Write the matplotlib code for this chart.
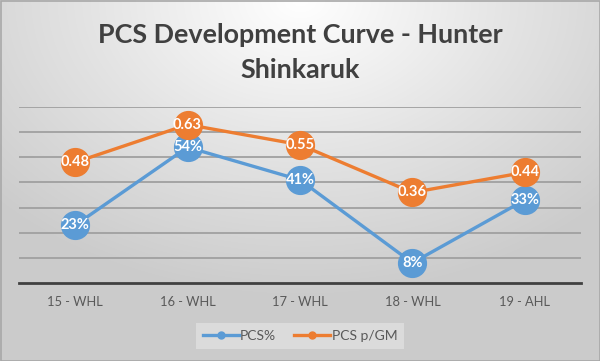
import numpy as np
import matplotlib
matplotlib.use("Agg")
import matplotlib.pyplot as plt
from matplotlib.colors import LinearSegmentedColormap
from matplotlib.lines import Line2D

categories = ["15 - WHL", "16 - WHL", "17 - WHL", "18 - WHL", "19 - AHL"]
pcs_pct = [0.23, 0.54, 0.41, 0.08, 0.33]
pcs_pgm = [0.48, 0.63, 0.55, 0.36, 0.44]
pct_labels = ["23%", "54%", "41%", "8%", "33%"]
pgm_labels = ["0.48", "0.63", "0.55", "0.36", "0.44"]

BLUE = "#5B9BD5"
ORANGE = "#ED7D31"
FONT = ["Lato", "DejaVu Sans"]

W, H = 600, 361
fig = plt.figure(figsize=(6, 3.61), dpi=100)

# radial gradient background
bg = fig.add_axes([0, 0, 1, 1], zorder=-10)
yy, xx = np.mgrid[0:H, 0:W]
d = np.sqrt(((xx - 300) / 420.0) ** 2 + ((yy - 0) / 300.0) ** 2)
cmap = LinearSegmentedColormap.from_list("g", ["#FFFFFF", "#E4E4E4", "#CBCBCB"])
bg.imshow(np.clip(d, 0, 1), cmap=cmap, vmin=0, vmax=1, aspect="auto",
          extent=[0, W, H, 0])
bg.set_xlim(0, W)
bg.set_ylim(H, 0)
bg.axis("off")
bg.add_patch(plt.Rectangle((0.5, 0.5), W - 1, H - 1, fill=False,
                           edgecolor="#A8A8A8", lw=1.2))

# plot area: x 19..581, y 107..283 (pixel), top-left origin
left, right, top, bottom = 19, 581, 107, 283
ax = fig.add_axes([left / W, 1 - bottom / H, (right - left) / W, (bottom - top) / H])
ax.set_facecolor("none")
x = np.arange(len(categories))
ax.set_xlim(-0.5, len(categories) - 0.5)
ax.set_ylim(0, 0.7)
ax.set_yticks(np.arange(0.1, 0.71, 0.1))
ax.yaxis.grid(True, color="#A0A0A0", lw=1.3)
ax.set_axisbelow(True)
for s in ["left", "right", "top"]:
    ax.spines[s].set_visible(False)
ax.spines["bottom"].set_color("#404040")
ax.spines["bottom"].set_linewidth(2)
ax.tick_params(axis="y", left=False, labelleft=False)
ax.tick_params(axis="x", length=0, pad=9, labelsize=9.3, labelcolor="#595959")
ax.set_xticks(x)
ax.set_xticklabels(categories, fontfamily=FONT)

ax.plot(x, pcs_pct, color=BLUE, lw=2.4, marker="o", ms=20,
        markerfacecolor=BLUE, markeredgecolor=BLUE, label="PCS%", zorder=3,
        clip_on=False)
ax.plot(x, pcs_pgm, color=ORANGE, lw=2.4, marker="o", ms=20,
        markerfacecolor=ORANGE, markeredgecolor=ORANGE, label="PCS p/GM", zorder=4,
        clip_on=False)
for xi, v, t in zip(x, pcs_pct, pct_labels):
    ax.text(xi, v, t, ha="center", va="center", color="white", fontsize=10.5,
            fontweight="bold", fontfamily=FONT, zorder=6)
for xi, v, t in zip(x, pcs_pgm, pgm_labels):
    ax.text(xi, v, t, ha="center", va="center", color="white", fontsize=10.5,
            fontweight="bold", fontfamily=FONT, zorder=6)

fig.text(0.5, 1 - 35 / H, "PCS Development Curve - Hunter", ha="center",
         va="center", fontsize=19.4, fontweight="bold", color="#404040",
         fontfamily=FONT)
fig.text(0.5, 1 - 70 / H, "Shinkaruk", ha="center", va="center",
         fontsize=19.4, fontweight="bold", color="#404040", fontfamily=FONT)

handles = [Line2D([], [], color=BLUE, lw=2.4, marker="o", ms=5),
           Line2D([], [], color=ORANGE, lw=2.4, marker="o", ms=5)]
leg = fig.legend(handles, ["PCS%", "PCS p/GM"], loc="center",
                 bbox_to_anchor=(300 / W, 1 - 336 / H), ncol=2, frameon=True,
                 fancybox=False, handlelength=2.6, handletextpad=0.1,
                 columnspacing=1.3, prop={"family": FONT, "size": 10},
                 borderpad=0.5)
leg.get_frame().set_facecolor("#E0E0E0")
leg.get_frame().set_edgecolor("none")
leg.get_frame().set_alpha(0.8)
for t in leg.get_texts():
    t.set_color("#595959")

fig.savefig("out.png", dpi=100)
